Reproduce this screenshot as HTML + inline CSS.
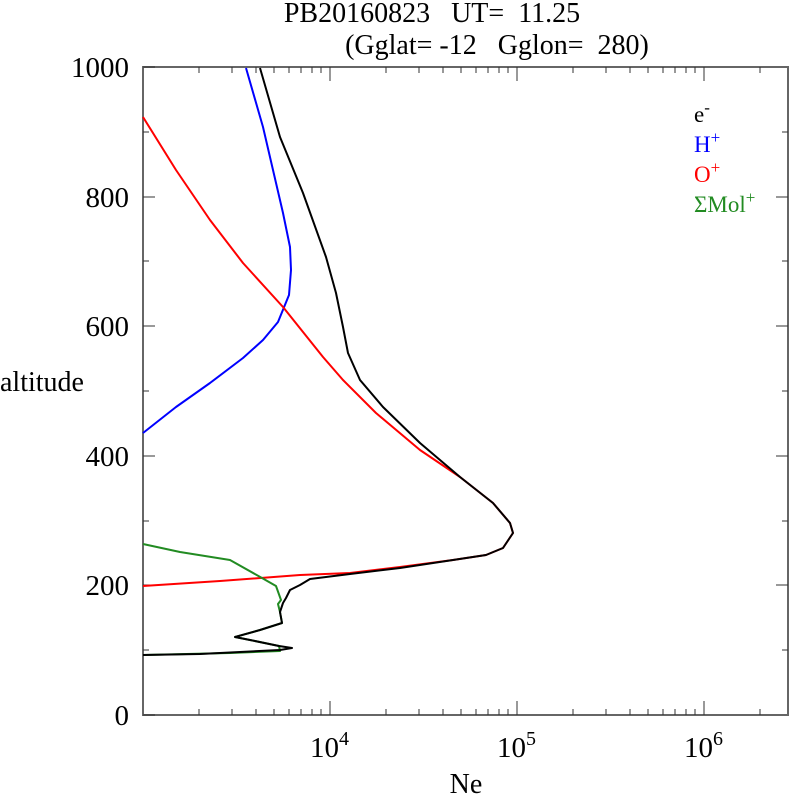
<!DOCTYPE html>
<html><head><meta charset="utf-8"><style>
body{margin:0;background:#fff;}
svg{display:block;font-family:"Liberation Serif",serif;}
</style></head><body>
<svg width="792" height="796" viewBox="0 0 792 796" xmlns="http://www.w3.org/2000/svg">
<text x="432" y="22" font-size="28" text-anchor="middle" xml:space="preserve">PB20160823   UT=  11.25</text>
<text x="497" y="54" font-size="28" text-anchor="middle" xml:space="preserve">(Gglat= -12   Gglon=  280)</text>
<rect x="143" y="67" width="645" height="648" fill="none" stroke="#666" stroke-width="2"/>
<g stroke="#333" stroke-width="1">
<path d="M143 715h12M143 585h12M143 456h12M143 326h12M143 197h12M143 67h12
M143 650h6M143 521h6M143 391h6M143 261h6M143 132h6
M788 585h-12M788 456h-12M788 326h-12M788 197h-12
M788 650h-6M788 521h-6M788 391h-6M788 261h-6M788 132h-6"/>
<path d="M199 715v-6M232 715v-6M256 715v-6M274 715v-6M289 715v-6M301 715v-6M312 715v-6M321 715v-6M330 715v-14
M386 715v-6M419 715v-6M443 715v-6M461 715v-6M476 715v-6M488 715v-6M499 715v-6M508 715v-6M517 715v-14
M573 715v-6M606 715v-6M630 715v-6M648 715v-6M663 715v-6M675 715v-6M686 715v-6M695 715v-6M704 715v-14M760 715v-6
M199 67v6M232 67v6M256 67v6M274 67v6M289 67v6M301 67v6M312 67v6M321 67v6M330 67v14
M386 67v6M419 67v6M443 67v6M461 67v6M476 67v6M488 67v6M499 67v6M508 67v6M517 67v14
M573 67v6M606 67v6M630 67v6M648 67v6M663 67v6M675 67v6M686 67v6M695 67v6M704 67v14M760 67v6"/>
</g>
<g font-size="29" text-anchor="end">
<text x="129" y="725">0</text><text x="129" y="595">200</text><text x="129" y="466">400</text>
<text x="129" y="336">600</text><text x="129" y="207">800</text><text x="129" y="77">1000</text>
</g>
<text x="0" y="391" font-size="28">altitude</text>
<g font-size="29">
<text x="310" y="757">10<tspan dy="-12" font-size="20">4</tspan></text>
<text x="497" y="757">10<tspan dy="-12" font-size="20">5</tspan></text>
<text x="684" y="757">10<tspan dy="-12" font-size="20">6</tspan></text>
</g>
<text x="466" y="793" font-size="28" text-anchor="middle">Ne</text>
<g font-size="23">
<text x="694" y="122">e<tspan dy="-9" font-size="17">-</tspan></text>
<text x="694" y="152" fill="#0000ff">H<tspan dy="-9" font-size="17">+</tspan></text>
<text x="694" y="182" fill="#ff0000">O<tspan dy="-9" font-size="17">+</tspan></text>
<text x="694" y="212" fill="#228b22">ΣMol<tspan dy="-9" font-size="17">+</tspan></text>
</g>
<g fill="none" stroke-width="2" stroke-linejoin="round">
<polyline stroke="#0000ff" points="246,68 263,127 283,213 290,247 291,270 289,295 278,322 263,340 243,358 210,383 176,407 143,433"/>
<polyline stroke="#ff0000" points="143,117 176,170 210,220 243,263 283,307 323,357 343,380 376,413 420,450 460,477 493,503 510,523 513,533 503,548 486,555 453,560 400,567 350,573 300,575 220,581 143,586"/>
<polyline stroke="#228b22" points="143,544 180,552 230,560 262,578 276,586 281,600 278,604 280,612 282,623 260,630 235,637 250,640 279,646 280,651 230,653 143,655"/>
<polyline stroke="#000" points="260,68 280,137 303,193 326,257 336,293 343,327 348,353 360,380 383,407 420,443 460,477 493,503 510,523 513,533 503,548 486,555 453,560 400,568 350,574 310,579 300,585 290,590 286,598 283,603 280,612 282,623 260,630 235,637 250,640 279,646 292,648 280,650 240,652 200,654 143,655"/>
</g>
</svg>
</body></html>
